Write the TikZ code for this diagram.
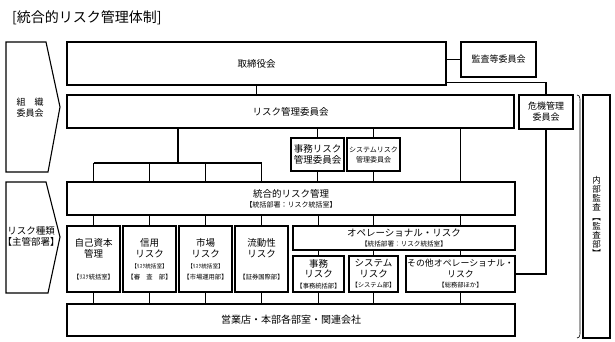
\documentclass[tikz,border=0pt]{standalone}
\usepackage{fontspec}
\setmainfont{Noto Sans CJK JP}
\newcommand\mainf{\fontsize{9.5}{11}\selectfont}
\newcommand\smallf{\fontsize{6.3}{7}\selectfont}
\newcommand\tinyf{\fontsize{5.6}{7}\selectfont}
\begin{document}
\begin{tikzpicture}[x=1pt,y=-1pt,
  box/.style={draw,line width=1.1pt,inner sep=0pt,align=center,font=\mainf},
  ln/.style={line width=1.1pt},
  lbl/.style={inner sep=0pt,align=center,font=\mainf}]
\useasboundingbox (0,0) rectangle (615,342);
% title
\node[anchor=west,inner sep=0pt,font=\fontsize{14}{16}\selectfont] (title) at (12,18) {[統合的リスク管理体制]};
% left arrows
\draw[ln] (6,42) -- (46,42) -- (60,107) -- (48,172) -- (6,172) -- cycle;
\node[lbl,font=\fontsize{9}{11}\selectfont] (orgT) at (30,108) {組　織\\委員会};
\draw[ln] (6,182) -- (46,182) -- (60,237) -- (48,293) -- (6,293) -- cycle;
\node[lbl,font=\fontsize{9.5}{11}\selectfont] (typeT) at (31,236) {リスク種類\\【主管部署】};
% boxes
\node[box,minimum width=379pt,minimum height=43pt] (board) at (256.5,63.5) {取締役会};
\node[box,minimum width=75pt,minimum height=35pt,font=\fontsize{9}{11}\selectfont] (kansa) at (498.5,59.5) {監査等委員会};
\node[box,minimum width=447pt,minimum height=33pt] (riskcom) at (290.5,111.5) {リスク管理委員会};
\node[box,minimum width=54pt,minimum height=34pt,font=\fontsize{9}{11}\selectfont] (kiki) at (546,112) {危機管理\\委員会};
\node[box,minimum width=53pt,minimum height=33pt] (jimucom) at (317.5,154.5) {事務リスク\\管理委員会};
\node[box,minimum width=53pt,minimum height=33pt,font=\fontsize{7}{10}\selectfont] (syscom) at (373.5,154.5) {システムリスク\\管理委員会};
\node[box,minimum width=448pt,minimum height=33pt,font=\fontsize{9.5}{10}\selectfont] (togo) at (291,198.5) {統合的リスク管理\\{\fontsize{7}{8}\selectfont 【統括部署：リスク統括室】}};
\node[box,minimum width=53pt,minimum height=66pt] (jiko) at (93.5,259) {自己資本\\管理\\\mbox{}\\{\smallf 【ﾘｽｸ統括室】}};
\node[box,minimum width=53pt,minimum height=66pt] (shinyo) at (149.5,259) {信用\\リスク\\{\tinyf 【ﾘｽｸ統括室】}\\{\smallf 【審　査　部】}};
\node[box,minimum width=53pt,minimum height=66pt] (shijo) at (205.5,259) {市場\\リスク\\{\tinyf 【ﾘｽｸ統括室】}\\{\smallf 【市場運用部】}};
\node[box,minimum width=53pt,minimum height=66pt] (ryudo) at (261.5,259) {流動性\\リスク\\\mbox{}\\{\smallf 【証券国際部】}};
\node[box,minimum width=222pt,minimum height=24pt,font=\fontsize{9.5}{10}\selectfont] (opr) at (404,238) {オペレーショナル・リスク\\{\fontsize{6.6}{7}\selectfont 【統括部署：リスク統括室】}};
\node[box,minimum width=51pt,minimum height=36pt,font=\fontsize{9.5}{10.5}\selectfont] (jimu) at (318.5,274) {事務\\リスク\\{\smallf 【事務統括部】}};
\node[box,minimum width=49pt,minimum height=36pt,font=\fontsize{9.5}{10.5}\selectfont] (sys) at (373.5,274) {システム\\リスク\\{\smallf 【システム部】}};
\node[box,minimum width=109pt,minimum height=36pt,font=\fontsize{8.9}{10.5}\selectfont] (sonota) at (460.5,274) {その他オペレーショナル・\\リスク\\{\smallf 【総務部ほか】}};
\node[box,minimum width=448pt,minimum height=32pt,font=\fontsize{10}{11}\selectfont] (eigyo) at (291,320) {営業店・本部各部室・関連会社};
\node[box,minimum width=27pt,minimum height=243pt,font=\fontsize{8.5}{9.2}\selectfont] (naibu) at (596.5,216.5) {内\\部\\監\\査\\︻\\監\\査\\部\\︼};
% connectors
\coordinate (bus) at (178,163);
\draw[ln] (board.south) -- (board.south |- riskcom.north);
\draw[ln] (board.east |- kansa.west) -- (kansa.west);
\draw[ln] ([yshift=3pt]board.south east) -| (kiki.north);
\draw[ln] (riskcom.south -| bus) -- (bus);
\draw[ln] (jiko |- bus) -- (ryudo |- bus);
\foreach \n in {jiko,shinyo,shijo,ryudo}{
  \draw[ln] (\n |- bus) -- (\n |- togo.north);
  \draw[ln] (\n |- togo.south) -- (\n.north);
  \draw[ln] (\n.south) -- (\n |- eigyo.north);
}
\draw[ln] (jimucom.north |- riskcom.south) -- (jimucom.north);
\draw[ln] (syscom.north |- riskcom.south) -- (syscom.north);
\draw[ln] (jimucom.south) -- (jimucom.south |- togo.north);
\draw[ln] (syscom.south) -- (syscom.south |- togo.north);
\draw[ln] (sonota |- riskcom.south) -- (sonota |- togo.north);
\foreach \n in {jimu,sys,sonota}{
  \draw[ln] (\n |- togo.south) -- (\n |- opr.north);
  \draw[ln] (\n |- opr.south) -- (\n.north);
  \draw[ln] (\n.south) -- (\n |- eigyo.north);
}
\draw[ln] (sonota.east) -| (kiki.south);
% bracket
\coordinate (brT) at (577,95);
\coordinate (brB) at (577,338);
\draw[line width=0.6pt] (brT) to[out=0,in=90] (580,104) -- (580,329) to[out=-90,in=0] (brB);
\end{tikzpicture}
\end{document}
